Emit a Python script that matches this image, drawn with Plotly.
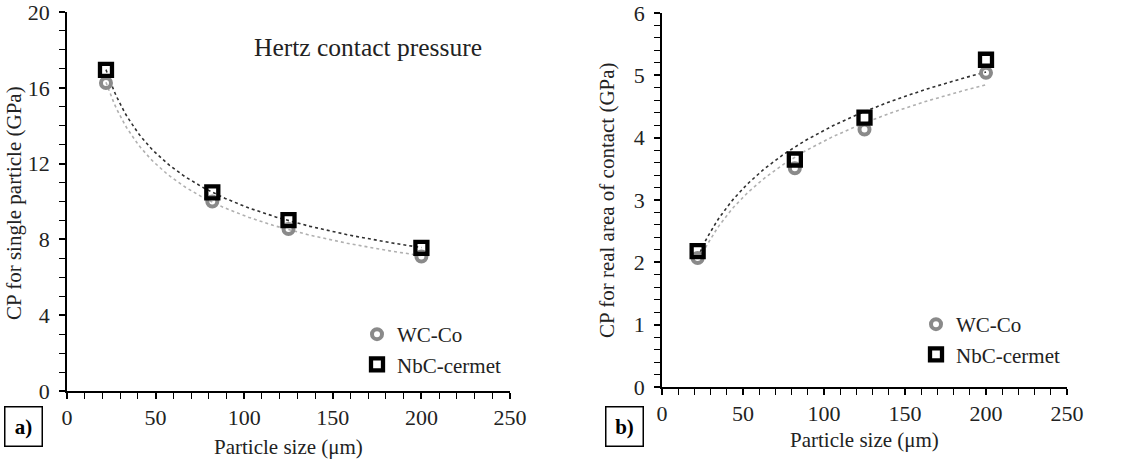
import numpy as np
import plotly.graph_objects as go

# ---- data ----
particle_size = [22, 82, 125, 200]
hertz_wcco = [16.25, 10.0, 8.55, 7.1]
hertz_nbc = [16.95, 10.48, 9.02, 7.55]
real_wcco = [2.07, 3.51, 4.13, 5.04]
real_nbc = [2.18, 3.65, 4.32, 5.25]

series_names = ["WC-Co", "NbC-cermet"]
x_title = "Particle size (μm)"
y_title_left = "CP for single particle (GPa)"
y_title_right = "CP for real area of contact (GPa)"
panel_title = "Hertz contact pressure"

FONT = "Liberation Serif, Times New Roman, serif"
GRAY = "#8a8a8a"
TXT = "#222"


def power_fit(x, y):
    x = np.asarray(x, float); y = np.asarray(y, float)
    b, ln_a = np.polyfit(np.log(x), np.log(y), 1)
    xs = np.linspace(x.min(), x.max(), 120)
    return xs, np.exp(ln_a) * xs ** b


def log_fit(x, y):
    x = np.asarray(x, float); y = np.asarray(y, float)
    a, c = np.polyfit(np.log(x), y, 1)
    xs = np.linspace(x.min(), x.max(), 120)
    return xs, a * np.log(xs) + c


fig = go.Figure()

# trendlines (left: power, right: logarithmic)
for (fit, ys, col, xa, ya) in [
    (power_fit, hertz_wcco, "#b0b0b0", "x", "y"),
    (power_fit, hertz_nbc, "#303030", "x", "y"),
    (log_fit, real_wcco, "#b0b0b0", "x2", "y2"),
    (log_fit, real_nbc, "#303030", "x2", "y2"),
]:
    fx, fy = fit(particle_size, ys)
    fig.add_trace(go.Scatter(x=fx, y=fy, mode="lines", xaxis=xa, yaxis=ya,
                             line=dict(color=col, width=1.6, dash="dot"),
                             showlegend=False, hoverinfo="skip"))

circle = dict(symbol="circle-open", size=10, color=GRAY, line=dict(width=4, color=GRAY))
square = dict(symbol="square-open", size=12, color="black", line=dict(width=4.3, color="black"))

fig.add_trace(go.Scatter(x=particle_size, y=hertz_wcco, mode="markers", name=series_names[0],
                         marker=circle, xaxis="x", yaxis="y", legend="legend"))
fig.add_trace(go.Scatter(x=particle_size, y=hertz_nbc, mode="markers", name=series_names[1],
                         marker=square, xaxis="x", yaxis="y", legend="legend"))
fig.add_trace(go.Scatter(x=particle_size, y=real_wcco, mode="markers", name=series_names[0],
                         marker=circle, xaxis="x2", yaxis="y2", legend="legend2"))
fig.add_trace(go.Scatter(x=particle_size, y=real_nbc, mode="markers", name=series_names[1],
                         marker=square, xaxis="x2", yaxis="y2", legend="legend2"))

W, H = 1129, 459

axis_common = dict(showline=True, linecolor="black", linewidth=1.5, ticks="outside",
                   ticklen=6, tickwidth=1.5, tickcolor="black", showgrid=False,
                   zeroline=False, automargin=False, ticklabeloverflow="allow",
                   tickfont=dict(family=FONT, size=22, color=TXT))
minor_common = dict(ticks="outside", ticklen=6, tickwidth=1.2, tickcolor="black")

fig.update_layout(
    width=W, height=H, margin=dict(l=0, r=0, t=0, b=0, pad=0, autoexpand=False),
    paper_bgcolor="white", plot_bgcolor="white",
    font=dict(family=FONT, size=21, color=TXT),
    xaxis=dict(domain=[67 / W, 510 / W], range=[0, 250], dtick=50, anchor="y",
               ticklabelstandoff=0, minor=dict(dtick=10, **minor_common), **axis_common),
    yaxis=dict(domain=[(H - 391) / H, (H - 12) / H], range=[0, 20], dtick=4, anchor="x",
               ticklabelstandoff=5, minor=dict(dtick=1, **minor_common), **axis_common),
    xaxis2=dict(domain=[662 / W, 1067 / W], range=[0, 250], dtick=50, anchor="y2",
                ticklabelstandoff=0, minor=dict(dtick=10, **minor_common), **axis_common),
    yaxis2=dict(domain=[(H - 387) / H, (H - 13) / H], range=[0, 6], dtick=1, anchor="x2",
                ticklabelstandoff=5, minor=dict(dtick=0.2, **minor_common), **axis_common),
    legend=dict(x=357 / W, y=1 - 314 / H, xanchor="left", yanchor="top",
                bgcolor="rgba(0,0,0,0)", font=dict(family=FONT, size=21, color=TXT),
                itemwidth=30, tracegroupgap=0),
    legend2=dict(x=916 / W, y=1 - 304 / H, xanchor="left", yanchor="top",
                 bgcolor="rgba(0,0,0,0)", font=dict(family=FONT, size=21, color=TXT),
                 itemwidth=30, tracegroupgap=0),
)

ann = []
ann.append(dict(text=panel_title, x=368 / W, y=1 - 47 / H, xref="paper", yref="paper",
                showarrow=False, xanchor="center", yanchor="middle",
                font=dict(family=FONT, size=25.5, color=TXT)))
ann.append(dict(text=x_title, x=288 / W, y=1 - 447 / H, xref="paper", yref="paper",
                showarrow=False, xanchor="center", yanchor="middle",
                font=dict(family=FONT, size=21, color=TXT)))
ann.append(dict(text=x_title, x=864 / W, y=1 - 440 / H, xref="paper", yref="paper",
                showarrow=False, xanchor="center", yanchor="middle",
                font=dict(family=FONT, size=21, color=TXT)))
ann.append(dict(text=y_title_left, x=14 / W, y=1 - 203 / H, xref="paper", yref="paper",
                showarrow=False, xanchor="center", yanchor="middle", textangle=-90,
                font=dict(family=FONT, size=21, color=TXT)))
ann.append(dict(text=y_title_right, x=607 / W, y=1 - 200 / H, xref="paper", yref="paper",
                showarrow=False, xanchor="center", yanchor="middle", textangle=-90,
                font=dict(family=FONT, size=21, color=TXT)))
for lab, cx in [("a)", 23.5), ("b)", 624)]:
    ann.append(dict(text="<b>%s</b>" % lab, x=cx / W, y=1 - 426 / H, xref="paper", yref="paper",
                    showarrow=False, xanchor="center", yanchor="middle",
                    width=34, height=36, borderpad=1, bordercolor="black", borderwidth=1.5,
                    bgcolor="white", font=dict(family=FONT, size=21, color="black")))
fig.update_layout(annotations=ann)

fig.write_html("out.html")
